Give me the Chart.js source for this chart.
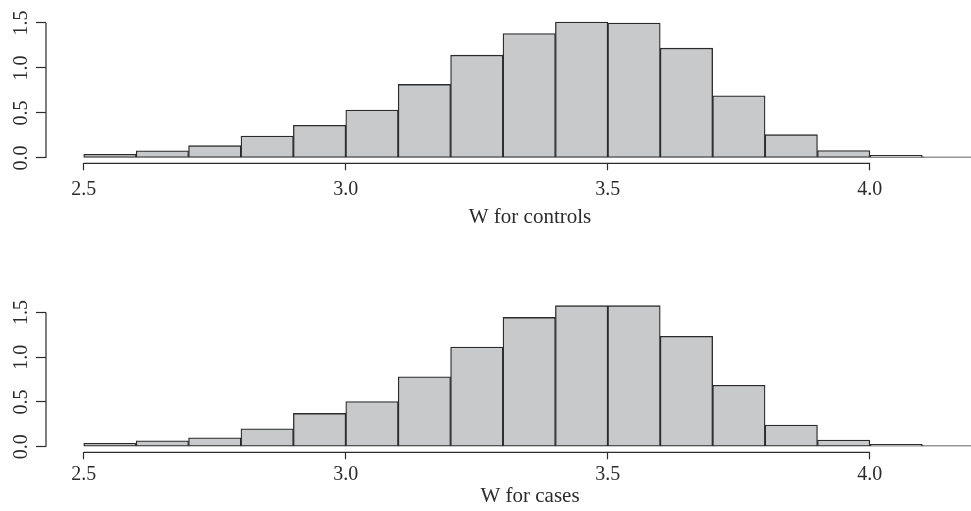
<!DOCTYPE html>
<html>
<head>
<meta charset="utf-8">
<script src="https://cdn.jsdelivr.net/npm/chart.js@4/dist/chart.umd.min.js"></script>
<style>
  html, body { margin: 0; padding: 0; background: #fff; overflow: hidden; }
  body { width: 971px; height: 511px; position: relative; }
  canvas { position: absolute; left: 0; }
  #top { top: 0; }
  #bottom { top: 289px; }
</style>
</head>
<body>
<!-- canvases are wider than the page: the original plot region runs past the right edge -->
<canvas id="top" width="1014" height="230"></canvas>
<canvas id="bottom" width="1014" height="222"></canvas>
<script>
// Histogram bins (centres of 0.1-wide bins from 2.5 to 4.2)
const binCentres = [2.55, 2.65, 2.75, 2.85, 2.95, 3.05, 3.15, 3.25, 3.35, 3.45, 3.55, 3.65, 3.75, 3.85, 3.95, 4.05, 4.15];

// Densities
const controls = [0.04, 0.078, 0.136, 0.244, 0.362, 0.532, 0.817, 1.142, 1.382, 1.511, 1.50, 1.22, 0.69, 0.258, 0.081, 0.03, 0.012];
const cases = [0.038, 0.067, 0.10, 0.20, 0.372, 0.505, 0.78, 1.114, 1.444, 1.575, 1.575, 1.233, 0.687, 0.242, 0.075, 0.027, 0.012];

// Tick labels
const xTicks = [2.5, 3.0, 3.5, 4.0];
const yTicks = [0, 0.5, 1.0, 1.5];

const fontFamily = "'Liberation Serif', 'DejaVu Serif', serif";
const inkColor = "#2b2b2b";
const barFill = "#c8c9cb";

// R-style axis lines: only between first and last tick
const axisLines = {
  id: "axisLines",
  afterDraw(chart) {
    const { ctx, chartArea, scales: { x, y } } = chart;
    ctx.save();
    ctx.strokeStyle = inkColor;
    ctx.lineWidth = 1.2;
    ctx.beginPath();
    ctx.moveTo(x.getPixelForValue(xTicks[0]), chartArea.bottom);
    ctx.lineTo(x.getPixelForValue(xTicks[xTicks.length - 1]), chartArea.bottom);
    ctx.moveTo(chartArea.left, y.getPixelForValue(yTicks[0]));
    ctx.lineTo(chartArea.left, y.getPixelForValue(yTicks[yTicks.length - 1]));
    ctx.stroke();
    ctx.restore();
  }
};

function makeHist(canvasId, values, label, cfg) {
  const ctx = document.getElementById(canvasId).getContext("2d");
  return new Chart(ctx, {
    type: "bar",
    data: {
      datasets: [{
        data: binCentres.map((c, i) => ({ x: c, y: values[i] })),
        // near-empty bins show up as just their outline
        backgroundColor: c => (c.raw && c.raw.y < 0.02 ? inkColor : barFill),
        borderColor: inkColor,
        borderWidth: 1.3,
        borderSkipped: false,
        barPercentage: 1,
        categoryPercentage: 1
      }]
    },
    options: {
      responsive: false,
      animation: false,
      devicePixelRatio: 1,
      layout: { padding: { top: 13.6, left: 0, right: 0, bottom: 0 } },
      plugins: {
        legend: { display: false },
        tooltip: { enabled: false }
      },
      scales: {
        x: {
          type: "linear",
          offset: false,
          min: 2.428,
          max: 4.275,
          afterBuildTicks: axis => { axis.ticks = xTicks.map(v => ({ value: v })); },
          afterFit: axis => { axis.height = cfg.xHeight; },
          grid: { offset: false, drawOnChartArea: false, drawTicks: true, tickLength: 7, tickColor: inkColor, tickWidth: 1.2 },
          border: { display: false },
          ticks: {
            color: inkColor,
            padding: cfg.xPad,
            maxRotation: 0,
            font: { family: fontFamily, size: 20 },
            callback: v => v.toFixed(1)
          },
          title: {
            display: true,
            text: label,
            color: inkColor,
            padding: { top: 0, bottom: cfg.titlePad },
            font: { family: fontFamily, size: 21 }
          }
        },
        y: {
          min: cfg.yMin,
          max: cfg.yMax,
          afterBuildTicks: axis => { axis.ticks = yTicks.map(v => ({ value: v })); },
          afterFit: axis => { axis.width = 46; },
          grid: { drawOnChartArea: false, drawTicks: true, tickLength: 10, tickColor: inkColor, tickWidth: 1.2 },
          border: { display: false },
          ticks: {
            color: inkColor,
            padding: 2,
            minRotation: 90,
            maxRotation: 90,
            crossAlign: "center",
            font: { family: fontFamily, size: 20 },
            callback: v => v.toFixed(1)
          }
        }
      }
    },
    plugins: [axisLines]
  });
}

makeHist("top", controls, "W for controls", { xHeight: 66.7, xPad: 7.5, titlePad: 0.4, yMin: -0.06, yMax: 1.6 });
makeHist("bottom", cases, "W for cases", { xHeight: 58.7, xPad: 3.5, titlePad: 2.4, yMin: -0.062, yMax: 1.605 });
</script>
</body>
</html>
